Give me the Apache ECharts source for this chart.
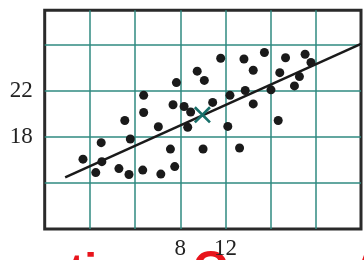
<!DOCTYPE html>
<html>
<head>
<meta charset="utf-8">
<script src="https://cdn.jsdelivr.net/npm/echarts@6/dist/echarts.min.js"></script>
<style>
  * { margin: 0; padding: 0; }
  #chart-container { width: 364px; height: 260px; overflow: hidden; background: #fff; }
</style>
</head>
<body>
<div id="chart-container"></div>
<script>
  // scatter points
  var pointsX = [
    -0.61, 0.52, 1.0, 1.06, 2.57, 3.09, 3.46, 3.58, 4.68, 4.76, 4.76, 6.06, 6.28, 7.13,
    7.36, 7.51, 7.66, 8.34, 8.66, 8.92, 9.5, 10.02, 10.13, 10.87, 11.58, 12.21, 12.4,
    13.25, 13.64, 13.75, 14.46, 14.46, 15.45, 16.03, 16.67, 16.81, 17.32, 18.11, 18.55,
    19.05, 19.57,
  ]
  var pointsY = [
    16.07, 14.9, 17.5, 15.85, 15.25, 19.43, 14.73, 17.82, 15.12, 21.61, 20.12, 18.88,
    14.77, 16.94, 20.79, 15.42, 22.72, 20.64, 18.84, 20.16, 23.71, 16.95, 22.91, 21.0,
    24.83, 18.91, 21.61, 17.04, 24.77, 22.03, 23.79, 20.87, 25.33, 22.09, 19.43, 23.58,
    24.88, 22.43, 23.24, 25.18, 24.47,
  ]
  var meanPoint = [9.96, 19.92]
  var fitLine = [[-2.19, 14.49], [24, 26.09]]
  var xLabels = [8, 12]
  var yLabels = [22, 18]

  var chartDom = document.getElementById('chart-container')
  var myChart = echarts.init(chartDom, null, { renderer: 'canvas' })

  var scatterData = pointsX.map(function (x, i) {
    return [x, pointsY[i]]
  })

  var gridColor = '#2f8a80'
  var labelFont = { fontFamily: 'Liberation Serif', fontSize: 23, color: '#222' }

  var option = {
    animation: false,
    grid: {
      left: 44.7,
      top: 10.3,
      right: -4.2,
      bottom: 30.3,
      show: true,
      borderColor: '#2a2a2a',
      borderWidth: 3,
    },
    xAxis: {
      type: 'value',
      min: -4,
      max: 24,
      interval: 4,
      axisLine: { show: false },
      axisTick: { show: false },
      splitLine: {
        show: true,
        showMinLine: false,
        showMaxLine: false,
        lineStyle: { color: gridColor, width: 1.5 },
      },
      axisLabel: Object.assign({
        margin: 8,
        showMinLabel: true,
        showMaxLabel: true,
        formatter: function (v) {
          return xLabels.indexOf(v) >= 0 ? String(v) : ''
        },
      }, labelFont),
    },
    yAxis: {
      type: 'value',
      min: 10,
      max: 29,
      interval: 4,
      axisLine: { show: false },
      axisTick: { show: false },
      splitLine: {
        show: true,
        showMinLine: false,
        showMaxLine: false,
        lineStyle: { color: gridColor, width: 1.5 },
      },
      axisLabel: Object.assign({
        margin: 12,
        formatter: function (v) {
          return yLabels.indexOf(v) >= 0 ? String(v) : ''
        },
      }, labelFont),
    },
    series: [
      {
        type: 'line',
        data: fitLine,
        showSymbol: false,
        symbol: 'none',
        lineStyle: { color: '#1a1a1a', width: 2.5 },
        z: 3,
      },
      {
        type: 'scatter',
        data: scatterData,
        symbolSize: 9,
        itemStyle: { color: '#1a1a1a', opacity: 1 },
        z: 4,
      },
      {
        type: 'scatter',
        data: [meanPoint],
        symbol: 'path://M0,1.1L1.1,0L5,3.9L8.9,0L10,1.1L6.1,5L10,8.9L8.9,10L5,6.1L1.1,10L0,8.9L3.9,5Z',
        symbolSize: 17,
        itemStyle: { color: '#17706a', opacity: 1 },
        z: 5,
      },
    ],
    graphic: [
      {
        type: 'text',
        left: 69,
        top: 250,
        style: { text: 'ti', fill: '#e8141c', font: 'bold 46px "Liberation Sans"' },
      },
      {
        type: 'text',
        left: 193,
        top: 247,
        style: { text: 'O', fill: '#e8141c', font: 'bold 46px "Liberation Sans"' },
      },
      {
        type: 'text',
        left: 352,
        top: 249,
        style: { text: 'A', fill: '#e8141c', font: 'bold 46px "Liberation Sans"' },
      },
    ],
  }

  myChart.setOption(option)
  window.addEventListener('resize', myChart.resize)
</script>
</body>
</html>
